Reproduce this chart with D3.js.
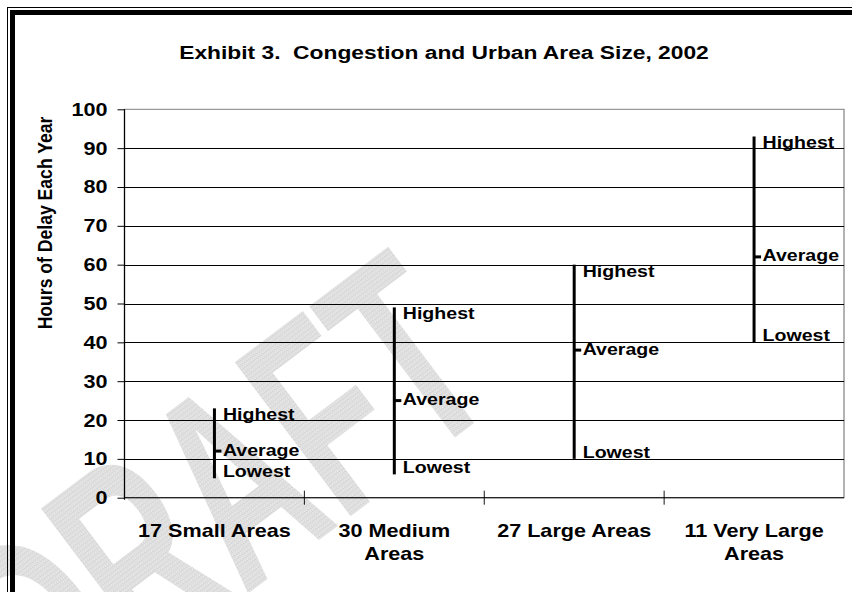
<!DOCTYPE html>
<html><head><meta charset="utf-8">
<script src="https://cdn.jsdelivr.net/npm/d3@7"></script>
<style>
body{margin:0;background:#fff}
svg{display:block}
text{font-family:"Liberation Sans",Arial,sans-serif;font-weight:bold;fill:#000}
</style>
</head><body>
<svg id="chart" width="852" height="592"></svg>
<script>
// ---- data ----
const categories = ["17 Small Areas", "30 Medium Areas", "27 Large Areas", "11 Very Large Areas"];
const categoryLines = [["17 Small Areas"], ["30 Medium", "Areas"], ["27 Large Areas"], ["11 Very Large", "Areas"]];
const highest = [23, 49, 60, 93];
const average = [12, 25, 38, 62];
const lowest = [5, 6, 10, 40];
const yTicks = [0, 10, 20, 30, 40, 50, 60, 70, 80, 90, 100];
const pointLabels = ["Highest", "Average", "Lowest"];
const title = "Exhibit 3.  Congestion and Urban Area Size, 2002";
const yTitle = "Hours of Delay Each Year";
const watermark = "DRAFT";

// ---- layout ----
(function () {
const W = 852, H = 592;
const S = 1.2; // horizontal stretch of the original picture
const svg = d3.select("#chart");
svg.append("rect").attr("width", W).attr("height", H).attr("fill", "#fff");

// speckled fill for the watermark
const defs = svg.append("defs");
const pat = defs.append("pattern").attr("id", "speck").attr("patternUnits", "userSpaceOnUse")
  .attr("width", 4).attr("height", 4);
pat.append("rect").attr("width", 4).attr("height", 4).attr("fill", "#dcdcdc");
pat.append("rect").attr("x", 0).attr("y", 0).attr("width", 1).attr("height", 1).attr("fill", "#f6f6f6");
pat.append("rect").attr("x", 2).attr("y", 2).attr("width", 1).attr("height", 1).attr("fill", "#f6f6f6");
pat.append("rect").attr("x", 3).attr("y", 1).attr("width", 1).attr("height", 1).attr("fill", "#c8c8c8");
pat.append("rect").attr("x", 1).attr("y", 3).attr("width", 1).attr("height", 1).attr("fill", "#eeeeee");

// watermark
svg.append("text")
  .attr("transform", "translate(51,742) rotate(-37) scale(0.6,1)")
  .attr("font-size", 280)
  .style("fill", "url(#speck)")
  .text(watermark);

// frame (cut at right and bottom)
svg.append("rect").attr("x", 7.5).attr("y", 7.5).attr("width", W + 40).attr("height", H + 40)
  .attr("fill", "none").attr("stroke", "#000").attr("stroke-width", 1);
svg.append("rect").attr("x", 12.5).attr("y", 12.5).attr("width", W + 40).attr("height", H + 40)
  .attr("fill", "none").attr("stroke", "#000").attr("stroke-width", 5);

const g = svg.append("g").attr("transform", `scale(${S},1)`);

const pLeft = 124.5 / S, pRight = 844 / S, pTop = 109.3, pBottom = 497.7;
const x = d3.scaleBand().domain(categories).range([pLeft, pRight]).padding(0);
const y = d3.scaleLinear().domain([0, 100]).range([pBottom, pTop]);

// plot area border
g.append("rect").attr("x", pLeft).attr("y", pTop).attr("width", pRight - pLeft).attr("height", pBottom - pTop)
  .attr("fill", "none").attr("stroke", "#808080").attr("stroke-width", 1);

// gridlines
g.selectAll("line.grid").data(yTicks.filter(d => d > 0 && d < 100)).join("line")
  .attr("class", "grid")
  .attr("x1", pLeft).attr("x2", pRight)
  .attr("y1", d => Math.round(y(d)) + 0.5).attr("y2", d => Math.round(y(d)) + 0.5)
  .attr("stroke", "#000").attr("stroke-width", 1);

// y axis
const yAxis = d3.axisLeft(y).tickValues(yTicks).tickSize(7 / S).tickPadding(0).tickFormat(d3.format("d"));
const ya = g.append("g").attr("transform", `translate(${pLeft},0)`).call(yAxis);
ya.select(".domain").remove();
ya.selectAll(".tick line").attr("stroke", "#000");
ya.selectAll(".tick text").remove();
g.append("line").attr("x1", pLeft).attr("x2", pLeft).attr("y1", pTop).attr("y2", pBottom + 2)
  .attr("stroke", "#000").attr("stroke-width", 1);
g.selectAll("text.ytick").data(yTicks).join("text")
  .attr("class", "ytick")
  .attr("x", 107.5 / S).attr("y", d => y(d) + 6.5)
  .attr("text-anchor", "end").attr("font-size", 18)
  .text(d => d);

// x axis
g.append("line").attr("x1", pLeft).attr("x2", pRight).attr("y1", pBottom).attr("y2", pBottom)
  .attr("stroke", "#000").attr("stroke-width", 1);
g.selectAll("line.xtick").data(categories.slice(1)).join("line")
  .attr("class", "xtick")
  .attr("x1", d => x(d)).attr("x2", d => x(d))
  .attr("y1", pBottom - 7).attr("y2", pBottom + 7)
  .attr("stroke", "#000").attr("stroke-width", 1 / S);
g.selectAll("text.xlab").data(categories).join("text")
  .attr("class", "xlab")
  .attr("text-anchor", "middle").attr("font-size", 18)
  .attr("x", d => x(d) + x.bandwidth() / 2)
  .attr("y", 537)
  .each(function (d, i) {
    d3.select(this).selectAll("tspan").data(categoryLines[i]).join("tspan")
      .attr("x", x(d) + x.bandwidth() / 2)
      .attr("dy", (t, j) => j === 0 ? 0 : 23.5)
      .text(t => t);
  });

// high-low lines
const cx = d => x(d) + x.bandwidth() / 2;
g.selectAll("line.hl").data(categories).join("line")
  .attr("class", "hl")
  .attr("x1", cx).attr("x2", cx)
  .attr("y1", (d, i) => y(highest[i])).attr("y2", (d, i) => y(lowest[i]))
  .attr("stroke", "#000").attr("stroke-width", 3 / S);
g.selectAll("line.avg").data(categories).join("line")
  .attr("class", "avg")
  .attr("x1", cx).attr("x2", d => cx(d) + 7 / S)
  .attr("y1", (d, i) => y(average[i])).attr("y2", (d, i) => y(average[i]))
  .attr("stroke", "#000").attr("stroke-width", 3);

// point labels
const series = [highest, average, lowest];
const dyCenter = [6, -1.5, -7];
series.forEach((vals, k) => {
  g.selectAll("text.pl" + k).data(categories).join("text")
    .attr("class", "pl" + k)
    .attr("x", d => cx(d) + 8.5 / S)
    .attr("y", (d, i) => y(vals[i]) + dyCenter[k] + 6)
    .attr("font-size", 16.3)
    .text(pointLabels[k]);
});

// title
g.append("text").attr("x", 444 / S).attr("y", 59).attr("text-anchor", "middle")
  .attr("font-size", 19).style("white-space", "pre").text(title);

// y title
g.append("text").attr("transform", `translate(${52 / S},223) rotate(-90)`)
  .attr("text-anchor", "middle").attr("font-size", 17.6).text(yTitle);
})();
</script>
</body></html>
